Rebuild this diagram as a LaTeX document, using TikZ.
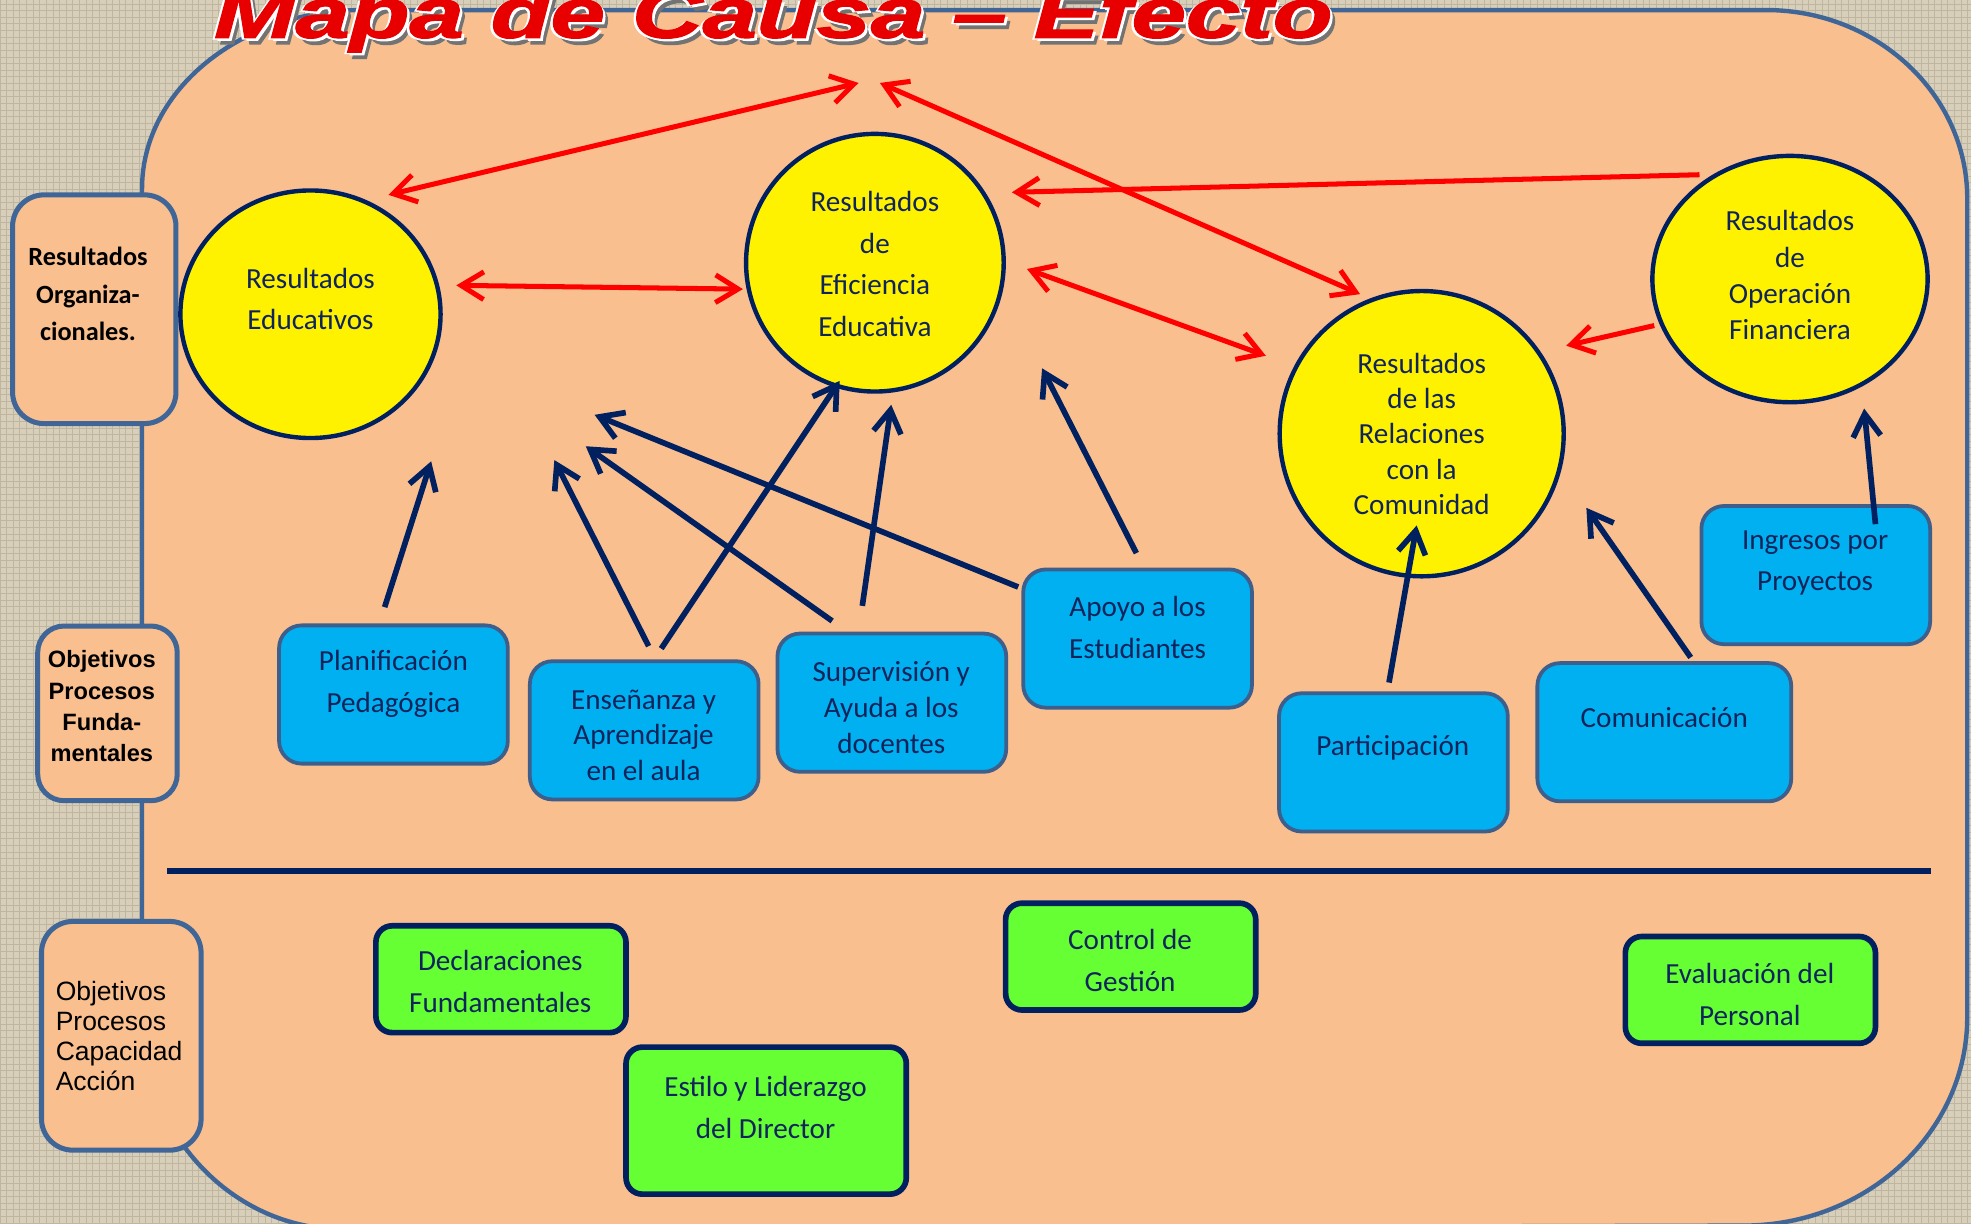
\documentclass[tikz,border=0pt]{standalone}
\usepackage{fontspec}
\setmainfont{Carlito}
\newfontfamily\arialf{Liberation Sans}
\newfontfamily\titlef{Liberation Sans}[BoldItalicFeatures={FakeBold=1.6}]
\usetikzlibrary{arrows.meta,shapes.geometric,patterns}
\definecolor{burlap}{RGB}{216,207,186}
\definecolor{burlapdark}{RGB}{192,182,160}
\definecolor{peach}{RGB}{249,191,143}
\definecolor{frameblue}{RGB}{64,102,152}
\definecolor{navy}{RGB}{0,32,96}
\definecolor{inknavy}{RGB}{16,36,92}
\definecolor{skyblue}{RGB}{0,176,240}
\definecolor{boxedge}{RGB}{62,94,140}
\definecolor{lime}{RGB}{102,255,51}
\definecolor{titlered}{RGB}{232,0,0}
\newcommand{\titletext}{\resizebox{17.8cm}{\height}{\fontsize{32}{32}\selectfont\titlef\bfseries\itshape Mapa de Causa – Efecto}}

\begin{document}
\begin{tikzpicture}[x=0.02cm,y=-0.02cm,>={Straight Barb[length=0.36cm,width=0.44cm]}]
\tikzstyle{level}=[draw=frameblue,line width=0.08cm,fill=peach,rounded corners=0.5cm,inner sep=0pt]
\tikzstyle{result}=[ellipse,draw=navy,line width=0.07cm,fill=yellow,inner sep=0pt]
\tikzstyle{process}=[rectangle,draw=boxedge,line width=0.06cm,fill=skyblue,rounded corners=0.36cm,minimum width=3.64cm,minimum height=2.2cm,inner sep=0pt]
\tikzstyle{capacity}=[rectangle,draw=navy,line width=0.09cm,fill=lime,rounded corners=0.26cm,minimum width=3.98cm,minimum height=1.7cm,inner sep=0pt]
\tikzstyle{boxtext}=[text=inknavy,align=center,inner sep=0pt,font=\fontsize{13.2}{18.8}\selectfont]
\tikzstyle{effect}=[draw=red,line width=0.08cm]
\tikzstyle{cause}=[draw=navy,line width=0.09cm,->]
\clip (0,0) rectangle (1568,973);
% fondo
\fill[burlap] (0,0) rectangle (1568,973);
\fill[pattern=grid,pattern color=burlapdark] (0,0) rectangle (1568,973);
\draw[fill=peach,draw=frameblue,line width=0.07cm] (113,808) -- (113,150)
  .. controls (113,72) and (191,8) .. (288,8) -- (1405,8)
  .. controls (1493,8) and (1565,75) .. (1565,158) -- (1565,809)
  .. controls (1565,901) and (1485,975) .. (1387,975) -- (273,978)
  .. controls (185,978) and (113,902) .. (113,808) -- cycle;
% niveles
\node[level,minimum width=2.6cm,minimum height=3.64cm] (orgbox) at (75,246) {};
\node[align=center,inner sep=0pt,font=\fontsize{11.9}{17}\selectfont\bfseries] (orgtext) at (70,234) {Resultados\\Organiza-\\cionales.};
\node[level,minimum width=2.22cm,minimum height=2.78cm,rounded corners=0.42cm] (fundbox) at (85.5,567.5) {};
\node[align=center,inner sep=0pt,font=\fontsize{10.7}{14.2}\selectfont\arialf\bfseries] (fundtext) at (81,562) {Objetivos\\Procesos\\Funda-\\mentales};
\node[level,minimum width=2.54cm,minimum height=3.64cm] (capbox) at (96.5,824) {};
\node[align=left,anchor=west,inner sep=0pt,font=\fontsize{12}{13.6}\selectfont\arialf] (captext) at (44,824) {Objetivos\\Procesos\\Capacidad\\Acción};
\draw[navy,line width=0.1cm] (133,693) coordinate (sepL) -- (1536,693) coordinate (sepR);
% resultados
\node[result,minimum width=4.14cm,minimum height=3.94cm] (edu) at (247,250) {};
\node[boxtext] (edut) at (247,238) {Resultados\\Educativos};
\node[result,minimum width=4.1cm,minimum height=4.1cm] (efi) at (696,209) {};
\node[boxtext] (efit) at (696,210) {Resultados\\de\\Eficiencia\\Educativa};
\node[result,minimum width=4.52cm,minimum height=4.54cm] (com) at (1131,345) {};
\node[boxtext,font=\fontsize{13.2}{16}\selectfont] (comt) at (1131,345) {Resultados\\de las\\Relaciones\\con la\\Comunidad};
\node[result,minimum width=4.38cm,minimum height=3.92cm] (fin) at (1424,222) {};
\node[boxtext,font=\fontsize{13.2}{16.5}\selectfont] (fint) at (1424,219) {Resultados\\de\\Operación\\Financiera};
% procesos fundamentales
\node[process] (plan) at (313,552.5) {};
\node[boxtext] (plant) at (313,544) {Planificación\\Pedagógica};
\node[process] (ense) at (512.5,581) {};
\node[boxtext,font=\fontsize{13.2}{16.2}\selectfont] (enset) at (512,585) {Enseñanza y\\Aprendizaje\\en el aula};
\node[process] (sup) at (709.5,559) {};
\node[boxtext,font=\fontsize{13.2}{16.2}\selectfont] (supt) at (709,563) {Supervisión y\\Ayuda a los\\docentes};
\node[process] (apo) at (905,508) {};
\node[boxtext] (apot) at (905,499) {Apoyo a los\\Estudiantes};
\node[process] (par) at (1108.5,606.5) {};
\node[boxtext] (part) at (1108,595) {Participación};
\node[process,minimum width=4.04cm] (comu) at (1324,582.5) {};
\node[boxtext] (comut) at (1324,571) {Comunicación};
\node[process] (ing) at (1444.5,457.5) {};
\node[boxtext] (ingt) at (1444,448) {Ingresos por\\Proyectos};
% capacidad de accion
\node[capacity] (decl) at (398.5,779) {};
\node[boxtext] (declt) at (398,781) {Declaraciones\\Fundamentales};
\node[capacity] (ctrl) at (899.5,761) {};
\node[boxtext] (ctrlt) at (899,764) {Control de\\Gestión};
\node[capacity,minimum width=4.46cm,minimum height=2.34cm] (est) at (609.5,891.5) {};
\node[boxtext] (estt) at (609,881) {Estilo y Liderazgo\\del Director};
\node[capacity] (eval) at (1392.5,787.5) {};
\node[boxtext] (evalt) at (1392,791) {Evaluación del\\Personal};
% flechas rojas
\coordinate (apex1) at (683,66);
\coordinate (apex2) at (700,66);
\coordinate (eduNE) at (309,155);
\coordinate (eduE) at (363,227);
\coordinate (efiW) at (591,230);
\coordinate (efiNE) at (805,153);
\coordinate (efiE) at (817,214);
\coordinate (comNW) at (1082,234);
\coordinate (comW) at (1007,283);
\coordinate (comNE) at (1246,275);
\coordinate (finW) at (1352,139);
\coordinate (finSW) at (1316,259);
\draw[effect,<->] (eduNE) -- (apex1);
\draw[effect,<->] (apex2) -- (comNW);
\draw[effect,<->] (eduE) -- (efiW);
\draw[effect,->] (finW) -- (efiNE);
\draw[effect,<->] (efiE) -- (comW);
\draw[effect,->] (finSW) -- (comNE);
% flechas azules
\coordinate (planT) at (306,483);
\coordinate (planH) at (343,367);
\coordinate (enseT1) at (516,514);
\coordinate (enseH1) at (441,366);
\coordinate (enseT2) at (526,516);
\coordinate (enseH2) at (668,303);
\coordinate (supT1) at (662,494);
\coordinate (supH1) at (466,355);
\coordinate (supT2) at (686,482);
\coordinate (supH2) at (709,322);
\coordinate (apoT1) at (810,467);
\coordinate (apoH1) at (473,330);
\coordinate (apoT2) at (904,440);
\coordinate (apoH2) at (829,293);
\coordinate (parT) at (1105,543);
\coordinate (parH) at (1127,418);
\coordinate (comuT) at (1345,523);
\coordinate (comuH) at (1262,404);
\coordinate (ingT) at (1492,417);
\coordinate (ingH) at (1483,325);
\draw[cause] (planT) -- (planH);
\draw[cause] (enseT1) -- (enseH1);
\draw[cause] (enseT2) -- (enseH2);
\draw[cause] (supT1) -- (supH1);
\draw[cause] (supT2) -- (supH2);
\draw[cause] (apoT1) -- (apoH1);
\draw[cause] (apoT2) -- (apoH2);
\draw[cause] (parT) -- (parH);
\draw[cause] (comuT) -- (comuH);
\draw[cause] (ingT) -- (ingH);
% titulo
\node[anchor=base west,inner sep=0pt,text=black!55] (titleshadow) at (174,35) {\titletext};
\node[anchor=base west,inner sep=0pt,text=white] (titleglowA) at (172,32) {\titletext};
\node[anchor=base west,inner sep=0pt,text=white] (titleglowB) at (168,31) {\titletext};
\node[anchor=base west,inner sep=0pt,text=titlered] (title) at (170,30) {\titletext};
\end{tikzpicture}
\end{document}
